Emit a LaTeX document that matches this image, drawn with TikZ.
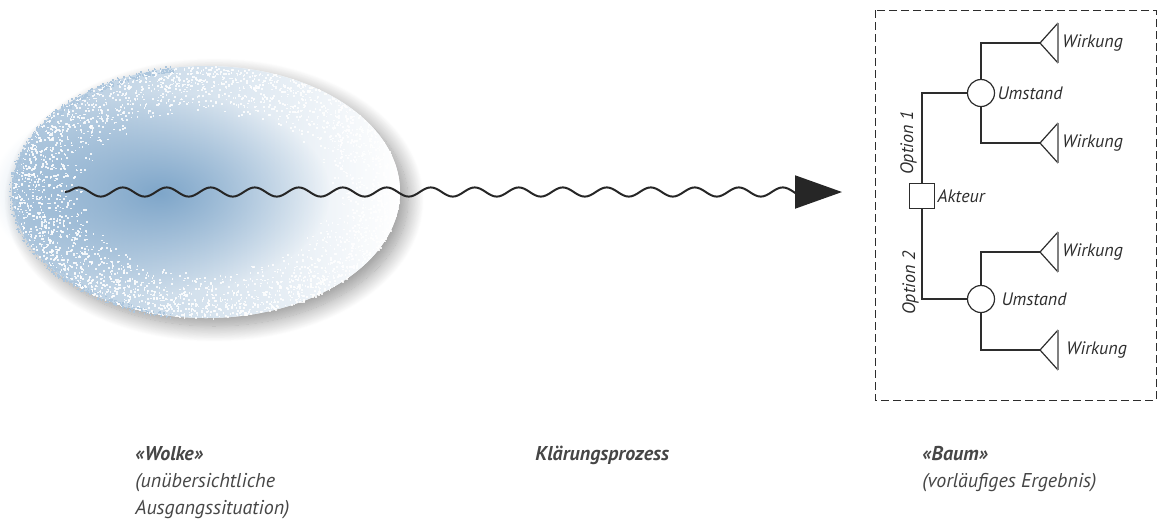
\documentclass[tikz,border=0pt]{standalone}
\usepackage{fontspec}
\setmainfont{PT Sans}
\usetikzlibrary{positioning,arrows.meta,decorations.pathmorphing,shadows.blur,fadings}
\definecolor{cloudblue}{RGB}{118,160,198}
\definecolor{ink}{RGB}{45,45,45}
\definecolor{captiongray}{RGB}{70,70,70}
\tikzfading[name=fuzzy core, inner color=transparent!10, outer color=transparent!100]

\begin{document}
\begin{tikzpicture}[x=0.5pt, y=-0.5pt,
  treeline/.style={draw=ink, line width=0.6pt},
  actor/.style={treeline, rectangle, minimum size=12.5pt, inner sep=0pt},
  chance/.style={treeline, circle, minimum size=13.5pt, inner sep=0pt},
  treelabel/.style={font=\fontsize{9}{11}\selectfont\itshape, text=ink, inner sep=1pt},
  caption/.style={font=\fontsize{10}{13.5}\selectfont\itshape, text=captiongray, align=left, anchor=north west, inner sep=0pt},
  wave/.style={line width=1pt, draw=black!85, decorate,
    decoration={snake, amplitude=2.3pt, segment length=22pt, post length=1pt},
    -{Triangle[length=23.5pt, width=16.5pt]}},
  effect/.pic={
    \draw[ink, line width=0.6pt] (18,-20) -- (0,0) -- (18,20);
    \draw[gray, line width=1pt] (18,-20) -- (18,20);
  }
]
\useasboundingbox (0,0) rectangle (1159,521);

% cloud
\fill[white, blur shadow={shadow xshift=4pt, shadow yshift=-4pt, shadow blur radius=8pt, shadow blur steps=20, shadow opacity=42}]
  (206,192) ellipse [x radius=97pt, y radius=63pt];
\shade[left color=cloudblue!60, right color=white] (206,192) ellipse [x radius=97pt, y radius=63pt];
\fill[cloudblue, path fading=fuzzy core] (160,193) ellipse [x radius=85pt, y radius=50pt];
\pgfmathsetseed{7}
\foreach \k in {1,...,3200}{
  \pgfmathsetmacro\ang{rnd*360}
  \pgfmathsetmacro\rad{0.62+0.38*sqrt(rnd)}
  \fill[white, opacity=0.85] ({206+194*\rad*cos(\ang)},{192+126*\rad*sin(\ang)}) rectangle ++(1.7,1.7);
}
\foreach \k in {1,...,700}{
  \pgfmathsetmacro\ang{100+rnd*160}
  \pgfmathsetmacro\rad{0.97+0.05*rnd}
  \fill[cloudblue!60] ({206+194*\rad*cos(\ang)},{192+126*\rad*sin(\ang)}) rectangle ++(1.5,1.5);
}

% process
\coordinate (wstart) at (65,192);
\coordinate (wend) at (842,192);
\draw[wave] (wstart) -- (wend);

% tree
\draw[ink, line width=0.5pt, dash pattern=on 4pt off 2pt] (875,10) rectangle (1156,400);

\node[actor] (akteur) at (922,196) {};
\node[chance] (u1) at (981,93) {};
\node[chance] (u2) at (981,299) {};
\coordinate (w1) at (1040,43);
\coordinate (w2) at (1040,143);
\coordinate (w3) at (1040,252);
\coordinate (w4) at (1040,350);
\foreach \w in {w1,w2,w3,w4}
  \pic at (\w) {effect};

\draw[treeline] (akteur) |- (u1);
\draw[treeline] (akteur) |- (u2);
\draw[treeline] (u1) |- (w1);
\draw[treeline] (u1) |- (w2);
\draw[treeline] (u2) |- (w3);
\draw[treeline] (u2) |- (w4);

\node[treelabel, right=0pt of akteur] (akteurl) {Akteur};
\node[treelabel, right=0pt of u1] (u1l) {Umstand};
\node[treelabel, right=2pt of u2] (u2l) {Umstand};
\node[treelabel, anchor=west] (w1l) at (1060,43) {Wirkung};
\node[treelabel, anchor=west] (w2l) at (1060,143) {Wirkung};
\node[treelabel, anchor=west] (w3l) at (1060,252) {Wirkung};
\node[treelabel, anchor=west] (w4l) at (1064,350) {Wirkung};
\node[treelabel, rotate=90, anchor=south] (opt1) at (919,143) {Option 1};
\node[treelabel, rotate=90, anchor=south] (opt2) at (921,283) {Option 2};

% captions
\node[caption] (wolke) at (135,446) {\textbf{«Wolke»}\\(unübersichtliche\\Ausgangssituation)};
\node[caption] (klaerung) at (535,446) {\textbf{Klärungsprozess}};
\node[caption] (baum) at (922,446) {\textbf{«Baum»}\\(vorläufiges Ergebnis)};
\end{tikzpicture}
\end{document}
